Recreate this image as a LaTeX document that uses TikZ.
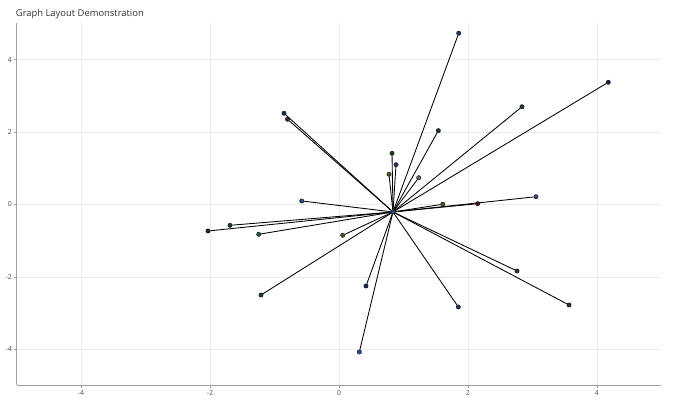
\documentclass[tikz,border=0pt]{standalone}
\usepackage{fontspec}
\setmainfont{Open Sans}
\definecolor{gridc}{HTML}{EBEBEB}
\definecolor{axisc}{HTML}{A0A0A0}
\definecolor{labc}{HTML}{505050}
\definecolor{titc}{HTML}{333333}
\definecolor{cA}{HTML}{1A3566}
\definecolor{cB}{HTML}{221A4E}
\definecolor{cC}{HTML}{1A403C}
\definecolor{cD}{HTML}{14284E}
\definecolor{cE}{HTML}{581A3E}
\definecolor{cF}{HTML}{1A3E1E}
\definecolor{cG}{HTML}{3E2466}
\definecolor{cH}{HTML}{5A4F1A}
\definecolor{cI}{HTML}{666658}
\definecolor{cJ}{HTML}{224C8C}
\definecolor{cK}{HTML}{4A3E80}
\definecolor{cL}{HTML}{581A26}
\definecolor{cM}{HTML}{1A5858}
\definecolor{cN}{HTML}{303030}
\begin{document}
\begin{tikzpicture}[x=64.5pt,y=36.2pt,
  gridline/.style={draw=gridc, line width=0.6pt},
  axisline/.style={draw=axisc, line width=1pt},
  tickmark/.style={draw=axisc, line width=0.5pt},
  ticklab/.style={font=\fontsize{7}{8}\selectfont, text=labc, inner sep=0pt},
  titlelab/.style={font=\fontsize{9.4}{10}\selectfont, text=titc, inner sep=0pt},
  vtx/.style={circle, draw=black!90, line width=0.5pt, minimum size=4.3pt, inner sep=0pt},
  edgeline/.style={draw=black, line width=0.85pt}]
\useasboundingbox (-5.256,-5.815) rectangle (5.442,5.649);
% grid
\foreach \v in {-4,-2,0,2,4} {
  \draw[gridline] (\v,-5) -- (\v,5);
  \draw[gridline] (-5,\v) -- (5,\v);
}
% axes
\draw[axisline] (-5,-5) -- (-5,5);
\draw[axisline] (-5,-5) -- (5,-5);
\foreach \v in {-4,-2,0,2,4} {
  \draw[tickmark] (-5,\v) -- ++(-2.5pt,0);
  \draw[tickmark] (\v,-5) -- ++(0,-2.5pt);
  \node[ticklab, anchor=east] (yl\v) at ([xshift=-4.5pt]-5,\v) {\v};
  \node[ticklab, anchor=north] (xl\v) at ([yshift=-4.5pt]\v,-5) {\v};
}
\node[titlelab, anchor=base west] (title) at (-5.012,5.188) {Graph Layout Demonstration};
% vertices
\node[vtx, fill=cJ] (hub) at (0.837,-0.207) {};
\node[vtx, fill=cA] (n1) at (1.856,4.73) {};
\node[vtx, fill=cB] (n2) at (4.175,3.376) {};
\node[vtx, fill=cC] (n3) at (2.837,2.70) {};
\node[vtx, fill=cD] (n4) at (-0.853,2.52) {};
\node[vtx, fill=cE] (n5) at (-0.798,2.354) {};
\node[vtx, fill=cF] (n6) at (1.54,2.04) {};
\node[vtx, fill=cF] (n7) at (0.822,1.414) {};
\node[vtx, fill=cG] (n8) at (0.884,1.10) {};
\node[vtx, fill=cH] (n9) at (0.775,0.834) {};
\node[vtx, fill=cI] (n10) at (1.236,0.74) {};
\node[vtx, fill=cJ] (n11) at (-0.578,0.097) {};
\node[vtx, fill=cK] (n12) at (3.054,0.215) {};
\node[vtx, fill=cH] (n13) at (1.608,0.006) {};
\node[vtx, fill=cL] (n14) at (2.150,0.022) {};
\node[vtx, fill=cD] (n15) at (-2.031,-0.732) {};
\node[vtx, fill=cF] (n16) at (-1.690,-0.575) {};
\node[vtx, fill=cM] (n17) at (-1.245,-0.823) {};
\node[vtx, fill=cH] (n18) at (0.057,-0.851) {};
\node[vtx, fill=cC] (n19) at (-1.209,-2.50) {};
\node[vtx, fill=cD] (n20) at (0.419,-2.251) {};
\node[vtx, fill=cJ] (n21) at (0.315,-4.075) {};
\node[vtx, fill=cN] (n22) at (2.760,-1.837) {};
\node[vtx, fill=cA] (n23) at (1.850,-2.831) {};
\node[vtx, fill=cN] (n24) at (3.566,-2.776) {};
% edges
\foreach \i in {1,...,24} {
  \draw[edgeline] (hub) -- (n\i);
}
\end{tikzpicture}
\end{document}
